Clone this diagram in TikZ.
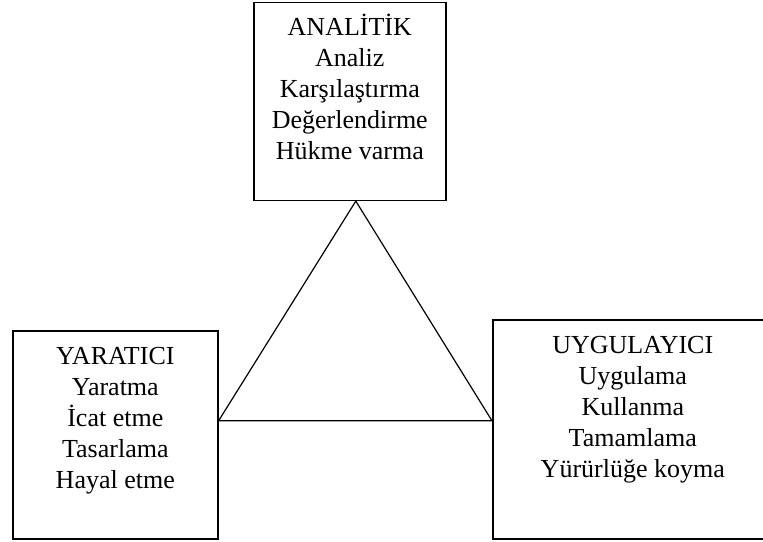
\documentclass[tikz,border=0pt]{standalone}
\usepackage{fontspec}
\setmainfont{Liberation Serif}
\begin{document}
\begin{tikzpicture}[x=1pt,y=-1pt]
    \tikzset{box/.style={draw=black,line width=1.6pt,anchor=north west,inner sep=0pt},
        words/.style={anchor=north,align=center,inner sep=0pt,font=\fontsize{26}{31}\selectfont}}
    \clip (0,0) rectangle (763,541);
    % the three boxes
    \node[box,minimum width=192pt,minimum height=198pt] (analitik) at (253,1.5) {};
    \node[box,minimum width=205pt,minimum height=208pt] (yaratici) at (12,330) {};
    \node[box,minimum width=280pt,minimum height=219pt] (uygulayici) at (492,319) {};
    \node[words] (analitiktext) at ([yshift=-12pt]analitik.north) {\strut ANALİTİK\\Analiz\\Karşılaştırma\\Değerlendirme\\Hükme varma};
    \node[words] (yaraticitext) at ([yshift=-13pt]yaratici.north) {\strut YARATICI\\Yaratma\\İcat etme\\Tasarlama\\Hayal etme};
    \node[words] (uygulayicitext) at ([yshift=-13pt]uygulayici.north) {\strut UYGULAYICI\\Uygulama\\Kullanma\\Tamamlama\\Yürürlüğe koyma};
    % triangle between them
    \coordinate (apex) at ([xshift=6pt]analitik.south);
    \coordinate (lcorner) at ([yshift=14pt]yaratici.east);
    \coordinate (rcorner) at ([yshift=8.5pt]uygulayici.west);
    \draw[line width=1.2pt,line join=miter] (apex) -- (lcorner) -- (rcorner) -- cycle;
\end{tikzpicture}
\end{document}
